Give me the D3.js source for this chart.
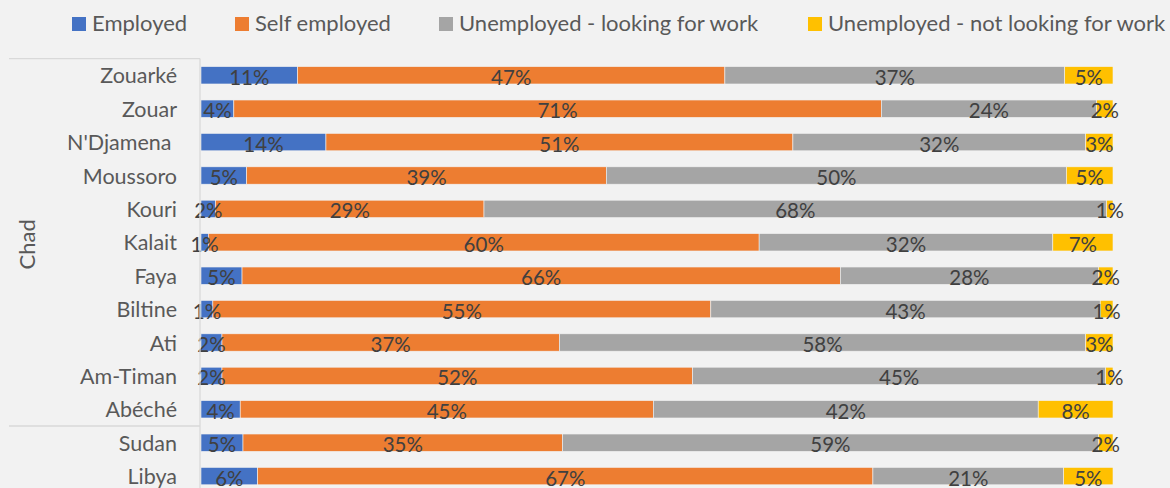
<!DOCTYPE html>
<html>
<head>
<meta charset="utf-8">
<script src="https://cdn.jsdelivr.net/npm/d3@7"></script>
<style>
  body { margin: 0; background: #f2f2f2; }
  svg { display: block; font-family: Lato, "Open Sans", sans-serif; }
</style>
</head>
<body>
<svg id="chart" width="1170" height="488"></svg>
<script>
// categories, top to bottom (first 11 are Chad)
var categories = ["Zouarké", "Zouar", "N'Djamena ", "Moussoro", "Kouri", "Kalait", "Faya",
                  "Biltine", "Ati", "Am-Timan", "Abéché", "Sudan", "Libya"];
var chadCount = 11;
var seriesNames = ["Employed", "Self employed", "Unemployed - looking for work", "Unemployed - not looking for work"];
var colors = ["#4472c4", "#ed7d31", "#a5a5a5", "#ffc000"];

// percentages
var employed       = [10.6, 3.6, 13.7, 5.0, 1.6, 0.8, 4.5, 1.3, 2.3, 2.3, 4.3, 4.6, 6.2];
var selfEmployed   = [46.9, 71.0, 51.2, 39.4, 29.4, 60.4, 65.6, 54.6, 37.0, 51.6, 45.3, 35.0, 67.4];
var lookingForWork = [37.3, 23.6, 32.1, 50.4, 68.2, 32.2, 28.3, 42.7, 57.7, 45.3, 42.2, 58.7, 20.9];
var notLooking     = [5.3, 1.8, 3.0, 5.1, 0.7, 6.6, 1.6, 1.4, 3.0, 0.8, 8.2, 1.6, 5.4];

var seriesValues = [employed, selfEmployed, lookingForWork, notLooking];

// build rows for d3.stack
var rows = categories.map(function(c, i){
	var r = {cat: c};
	seriesNames.forEach(function(s, j){ r[s] = seriesValues[j][i]; });
	return r;
});

var svg = d3.select("#chart");

var x = d3.scaleLinear().domain([0, 1]).range([201, 1113]);
var y = d3.scaleBand().domain(categories)
	.range([58.6, 58.6 + 13 * 33.4])
	.paddingInner(0.48).paddingOuter(0.24);

var stack = d3.stack().keys(seriesNames).offset(d3.stackOffsetExpand);
var layers = stack(rows);

var layer = svg.append("g").selectAll("g")
	.data(layers)
	.enter().append("g")
	.attr("fill", function(d, i){ return colors[i]; });

layer.selectAll("rect")
	.data(function(d){ return d; })
	.enter().append("rect")
	.attr("x", function(d){ return x(d[0]); })
	.attr("y", function(d){ return y(d.data.cat); })
	.attr("width", function(d){ return x(d[1]) - x(d[0]); })
	.attr("height", y.bandwidth())
	.attr("stroke", "#f2f2f2")
	.attr("stroke-width", 0.6);

// data labels
layers.forEach(function(ly, j){
	svg.append("g").selectAll("text")
		.data(ly)
		.enter().append("text")
		.attr("x", function(d){ return (x(d[0]) + x(d[1])) / 2; })
		.attr("y", function(d){ return y(d.data.cat) + y.bandwidth() / 2 + 1.5; })
		.attr("text-anchor", "middle")
		.attr("dominant-baseline", "central")
		.attr("font-size", 20.5)
		.attr("fill", "#404040")
		.text(function(d){ return Math.round(seriesValues[j][categories.indexOf(d.data.cat)]) + "%"; });
});

// category axis
var axisColor = "#d9d9d9";
svg.append("line")
	.attr("x1", 200).attr("x2", 200)
	.attr("y1", y.range()[0]).attr("y2", 488)
	.attr("stroke", axisColor).attr("stroke-width", 1.3);
var sepY = y(categories[chadCount - 1]) + y.bandwidth() + y.step() * y.paddingInner() / 2;
[y.range()[0], sepY].forEach(function(v){
	svg.append("line")
		.attr("x1", 9).attr("x2", 200)
		.attr("y1", v).attr("y2", v)
		.attr("stroke", axisColor).attr("stroke-width", 1.3);
});

svg.append("g").selectAll("text")
	.data(categories)
	.enter().append("text")
	.attr("x", 177)
	.attr("y", function(d){ return y(d) + y.bandwidth() / 2; })
	.attr("text-anchor", "end")
	.attr("dominant-baseline", "central")
	.attr("font-size", 21.5)
	.attr("fill", "#595959")
	.style("white-space", "pre")
	.text(function(d){ return d; });

var chadMid = (y.range()[0] + sepY) / 2;
svg.append("text")
	.attr("transform", "translate(26," + (chadMid + 2) + ") rotate(-90)")
	.attr("text-anchor", "middle")
	.attr("dominant-baseline", "central")
	.attr("font-size", 22)
	.attr("fill", "#595959")
	.text("Chad");

// legend
var legendX = [72, 235, 439, 808];
var legend = svg.append("g").selectAll("g")
	.data(seriesNames)
	.enter().append("g")
	.attr("transform", function(d, i){ return "translate(" + legendX[i] + ",0)"; });
legend.append("rect")
	.attr("x", 0).attr("y", 17)
	.attr("width", 14).attr("height", 14)
	.attr("fill", function(d, i){ return colors[i]; });
legend.append("text")
	.attr("x", 20).attr("y", 31)
	.attr("font-size", 22)
	.attr("fill", "#595959")
	.text(function(d){ return d; });
</script>
</body>
</html>
